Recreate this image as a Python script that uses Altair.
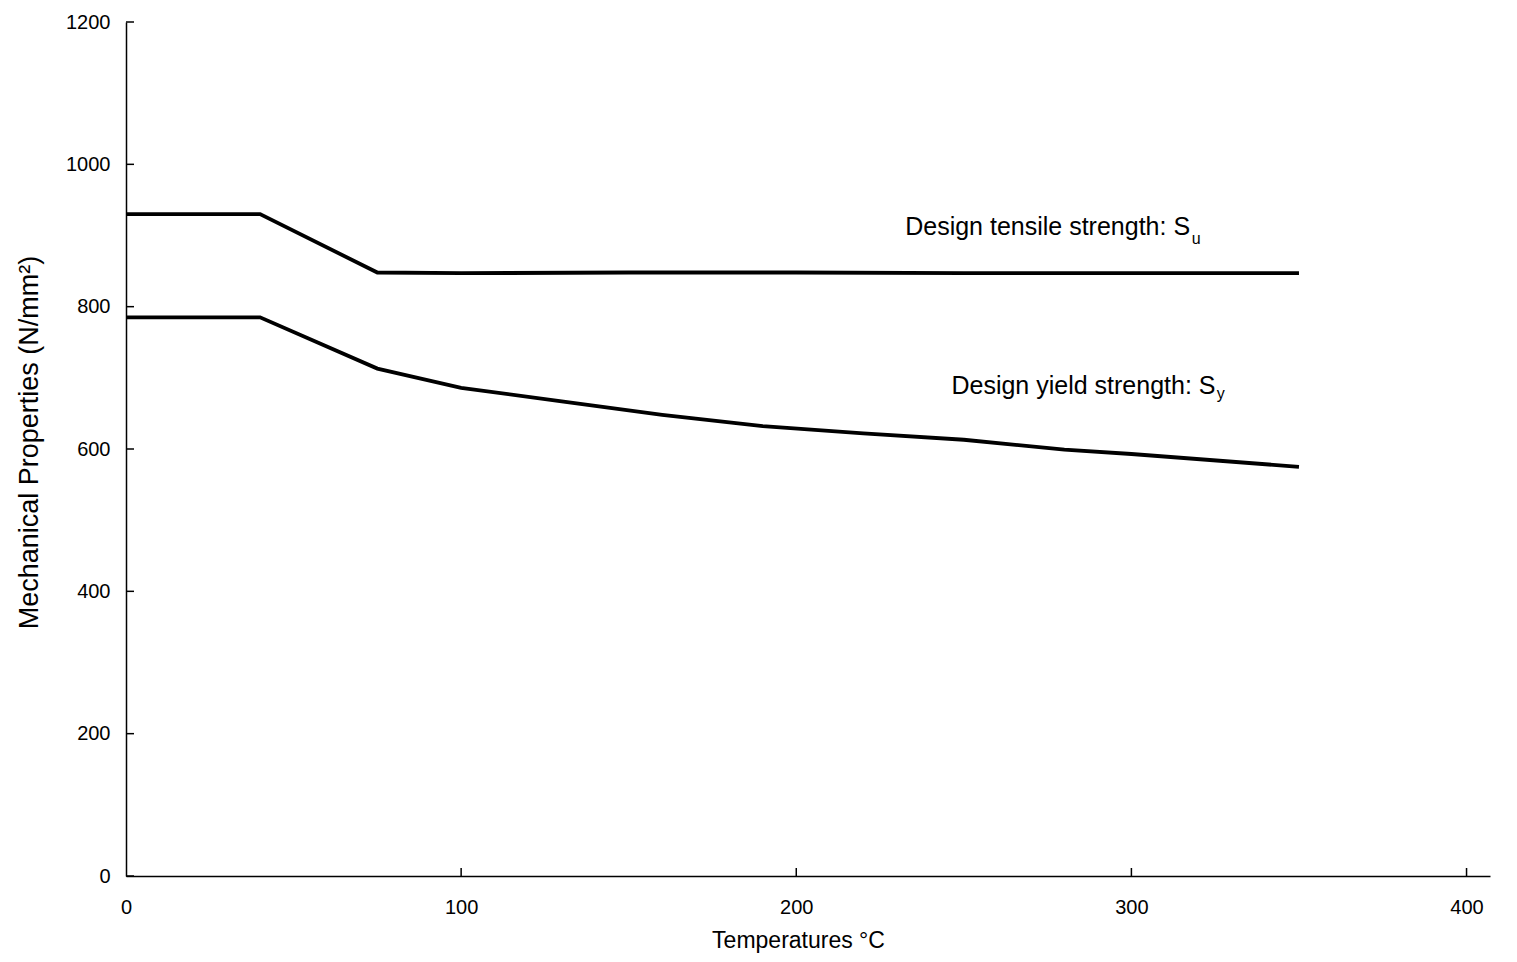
import altair as alt
import pandas as pd

# --- data ---
temp_su = [0, 40, 75, 100, 150, 200, 250, 300, 350]
su_vals = [930, 930, 848, 847, 848, 848, 847, 847, 847]

temp_sy = [0, 40, 75, 100, 130, 160, 190, 220, 250, 280, 300, 350]
sy_vals = [785, 785, 713, 686, 667, 648, 632, 622, 613, 599, 593, 575]

x_ticks = [0, 100, 200, 300, 400]
y_ticks = [0, 200, 400, 600, 800, 1000, 1200]

label_text = ["Design tensile strength: S", "Design yield strength: S"]
label_x = [232.5, 246.3]
label_y = [912, 688]
sub_text = ["u", "y"]
sub_x = [318, 325.5]
sub_y = [895, 677]

W, H = 1364, 854
FONT = "Liberation Sans"

df = pd.concat([
    pd.DataFrame({"T": temp_su, "v": su_vals, "s": "Su"}),
    pd.DataFrame({"T": temp_sy, "v": sy_vals, "s": "Sy"}),
])
labels = pd.DataFrame({"x": label_x, "y": label_y, "t": label_text})
subs = pd.DataFrame({"x": sub_x, "y": sub_y, "t": sub_text})
xt = pd.DataFrame({"x": [t for t in x_ticks if t > 0]})
yt = pd.DataFrame({"y": y_ticks})

xscale = alt.Scale(domain=[0, 407], nice=False, zero=False)
yscale = alt.Scale(domain=[0, 1200], nice=False)

xaxis = alt.Axis(values=x_ticks, format="d", title="Temperatures °C", grid=False, tickSize=0,
                 labelFlush=False, labelPadding=21, titlePadding=12,
                 labelFontSize=20, titleFontSize=23, titleX=672, titleAlign="center",
                 labelFont=FONT, titleFont=FONT, titleFontWeight="normal",
                 domainColor="black", domainWidth=1.5, labelColor="black", titleColor="black")
yaxis = alt.Axis(values=y_ticks, format="d", title="Mechanical Properties (N/mm²)", grid=False,
                 tickSize=0, labelFlush=False, labelPadding=16, titlePadding=22,
                 labelFontSize=20, titleFontSize=27, titleY=420, titleAlign="center",
                 labelFont=FONT, titleFont=FONT, titleFontWeight="normal",
                 domainColor="black", domainWidth=1.5, labelColor="black", titleColor="black")

lines = alt.Chart(df).mark_line(color="black", strokeWidth=3.8).encode(
    x=alt.X("T:Q", scale=xscale, axis=xaxis),
    y=alt.Y("v:Q", scale=yscale, axis=yaxis),
    detail="s:N",
)

xtick_marks = alt.Chart(xt).mark_rule(color="black", strokeWidth=1.5).encode(
    x=alt.X("x:Q", scale=xscale), y=alt.value(H), y2=alt.value(H - 8))
ytick_marks = alt.Chart(yt).mark_rule(color="black", strokeWidth=1.5).encode(
    y=alt.Y("y:Q", scale=yscale), x=alt.value(0), x2=alt.value(8))

label_marks = alt.Chart(labels).mark_text(
    align="left", baseline="middle", fontSize=25, font=FONT, color="black").encode(
    x=alt.X("x:Q", scale=xscale), y=alt.Y("y:Q", scale=yscale), text="t:N")
sub_marks = alt.Chart(subs).mark_text(
    align="left", baseline="middle", fontSize=16, font=FONT, color="black").encode(
    x=alt.X("x:Q", scale=xscale), y=alt.Y("y:Q", scale=yscale), text="t:N")

chart = alt.layer(lines, xtick_marks, ytick_marks, label_marks, sub_marks).properties(
    width=W, height=H,
    autosize=alt.AutoSizeParams(type="none"),
    padding={"left": 118, "top": 14, "right": 10, "bottom": 78},
    background="white",
).configure_view(stroke=None)

chart.save("out.html", embed_options={"renderer": "svg", "actions": False})
